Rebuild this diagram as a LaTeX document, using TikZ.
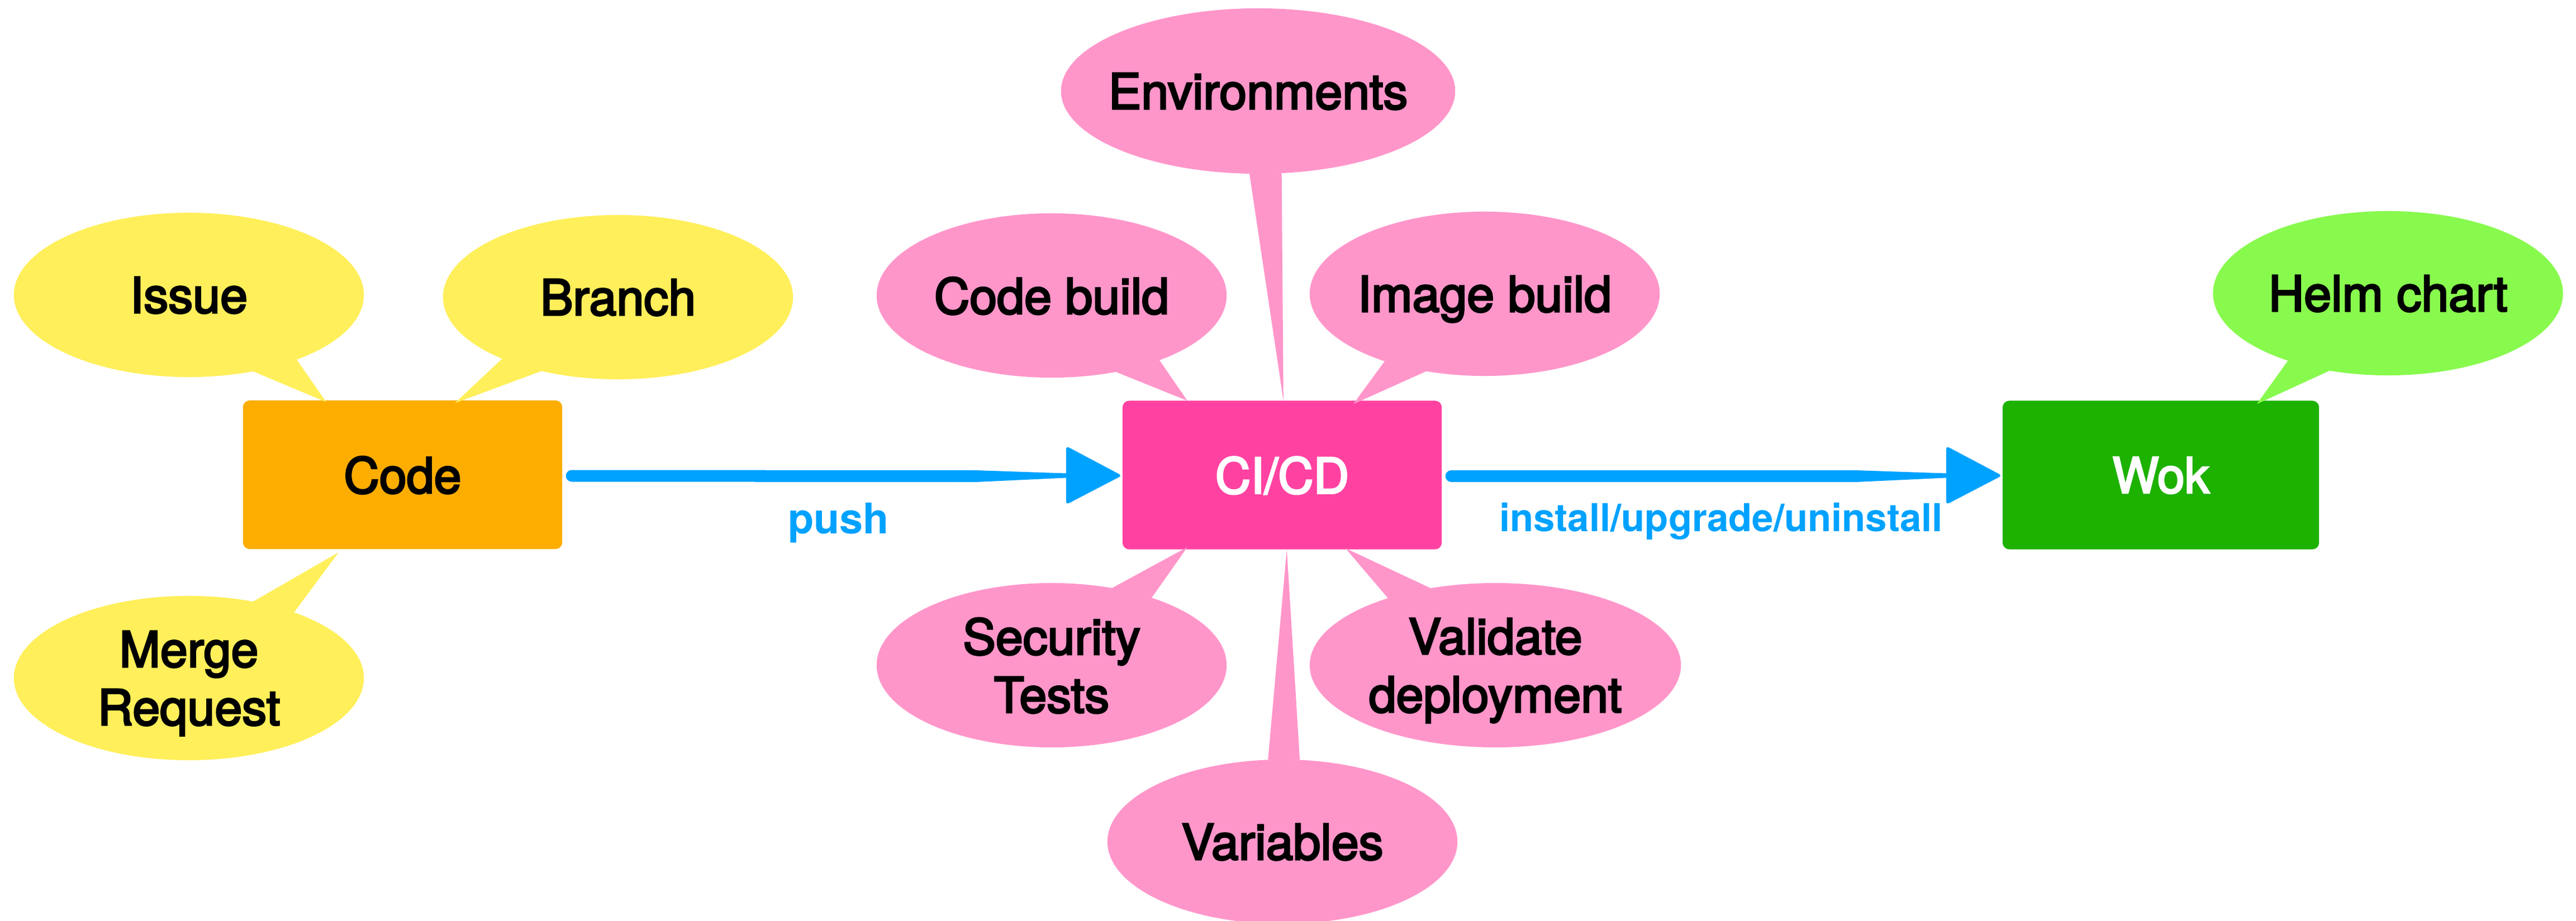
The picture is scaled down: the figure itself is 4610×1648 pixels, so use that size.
\documentclass[tikz,border=0pt]{standalone}
\usepackage{fontspec}
\setmainfont{TeX Gyre Heros}
\newfontfamily\medfont[FakeBold=3.5]{TeX Gyre Heros}
\usetikzlibrary{calc,shapes.geometric}
\definecolor{ybub}{HTML}{FFEF5A}
\definecolor{codeorange}{HTML}{FDAD00}
\definecolor{pbub}{HTML}{FF96CA}
\definecolor{cicdpink}{HTML}{FF42A1}
\definecolor{wokgreen}{HTML}{1DB100}
\definecolor{helmlime}{HTML}{88FA4E}
\definecolor{arrowblue}{HTML}{00A2FF}
\tikzset{
  bubble/.style={ellipse, draw=none, inner sep=0pt, outer sep=0pt,
    minimum width=6.26cm, minimum height=2.94cm},
  bubtext/.style={font=\medfont\fontsize{25}{29.6}\selectfont, align=center,
    text depth=0pt, inner sep=0pt, text=black},
  boxnode/.style={rectangle, rounded corners=0.12cm, inner sep=0pt, outer sep=0pt,
    minimum width=5.71cm, minimum height=2.66cm,
    font=\medfont\fontsize{25}{29.6}\selectfont, text depth=0pt},
  lbl/.style={font=\bfseries\fontsize{21.5}{24}\selectfont, text=arrowblue,
    anchor=base, inner sep=0pt},
  lblsmall/.style={lbl, font=\bfseries\fontsize{19.6}{22}\selectfont},
}
\newcommand{\brusharrow}[2]{%
  \draw[line width=0.21cm, line cap=round, arrowblue]
    ($(#1.east)+(17,2)$) -- ($(#2.west)+(-260,2)$);
  \fill[arrowblue] ($(#2.west)+(-262,-8.5)$) -- ($(#2.west)+(-101,-3)$)
    -- ($(#2.west)+(-101,5)$) -- ($(#2.west)+(-262,12.5)$) -- cycle;
  \fill[arrowblue, rounded corners=0.06cm] ($(#2.west)+(-101,-52)$)
    -- ($(#2.west)+(-1,1)$) -- ($(#2.west)+(-101,53)$) -- cycle;
}
\begin{document}
\begin{tikzpicture}[x=0.01cm, y=-0.01cm]
\useasboundingbox (0,0) rectangle (4610,1648);

% main boxes
\node[boxnode, fill=codeorange] (code) at (720.5,850) {Code};
\node[boxnode, fill=cicdpink, text=white] (cicd) at (2294.5,850.5) {CI/CD};
\node[boxnode, fill=wokgreen, text=white, minimum width=5.66cm] (wok) at (3867,850.5) {Wok};

% yellow bubbles
\node[bubble, fill=ybub, label={[bubtext]center:Issue}] (issue) at (338,528) {};
\node[bubble, fill=ybub, label={[bubtext]center:Branch}] (branch) at (1106,532) {};
\node[bubble, fill=ybub, label={[bubtext]center:{Merge\\Request}}] (merge) at (338,1214) {};
\fill[ybub] (issue.-50) -- ($(code.north west)+(149,3)$) -- (issue.-31.6) -- cycle;
\fill[ybub] (branch.-152.8) -- ($(code.north west)+(379,5)$) -- (branch.-136.1) -- cycle;
\fill[ybub] (merge.50.9) -- ($(code.south west)+(171,6)$) -- (merge.32.9) -- cycle;

% pink bubbles
\node[bubble, fill=pbub, label={[bubtext]center:Code build}] (codebuild) at (1882,529) {};
\node[bubble, fill=pbub, minimum width=7.05cm, minimum height=2.96cm,
  label={[bubtext]center:Environments}] (env) at (2251.5,163) {};
\node[bubble, fill=pbub, label={[bubtext]center:Image build}] (imagebuild) at (2657,526) {};
\node[bubble, fill=pbub, label={[bubtext]center:{Security\\Tests}}] (security) at (1882,1191) {};
\node[bubble, fill=pbub, minimum width=6.64cm,
  label={[bubtext]center:{Validate\\deployment}}] (validate) at (2676,1191) {};
\node[bubble, fill=pbub, label={[bubtext]center:Variables}] (variables) at (2295,1507) {};
\fill[pbub] (codebuild.-50) -- ($(cicd.north west)+(116,0)$) -- (codebuild.-31.3) -- cycle;
\fill[pbub] (env.-96.6) -- ($(cicd.north west)+(288,0)$) -- (env.-74) -- cycle;
\fill[pbub] (imagebuild.-146.1) -- ($(cicd.north west)+(413,6)$) -- (imagebuild.-127.6) -- cycle;
\fill[pbub] (security.52.3) -- ($(cicd.south west)+(116,-4)$) -- (security.34.2) -- cycle;
\fill[pbub] (validate.148.5) -- ($(cicd.south west)+(399,-2)$) -- (validate.130.7) -- cycle;
\fill[pbub] (variables.100.4) -- ($(cicd.south west)+(294,0)$) -- (variables.78.8) -- cycle;

% green bubble
\node[bubble, fill=helmlime, label={[bubtext]center:Helm chart}] (helm) at (4273.5,525) {};
\fill[helmlime] (helm.-146.3) -- ($(wok.north west)+(455,6)$) -- (helm.-127.5) -- cycle;

% arrows
\brusharrow{code}{cicd}
\brusharrow{cicd}{wok}
\node[lbl] (pushlbl) at ($(code.east)!0.5!(cicd.west)+(-7,105)$) {push};
\node[lblsmall] (installlbl) at ($(cicd.east)!0.5!(wok.west)+(-2,101)$) {install/upgrade/uninstall};
\end{tikzpicture}
\end{document}
